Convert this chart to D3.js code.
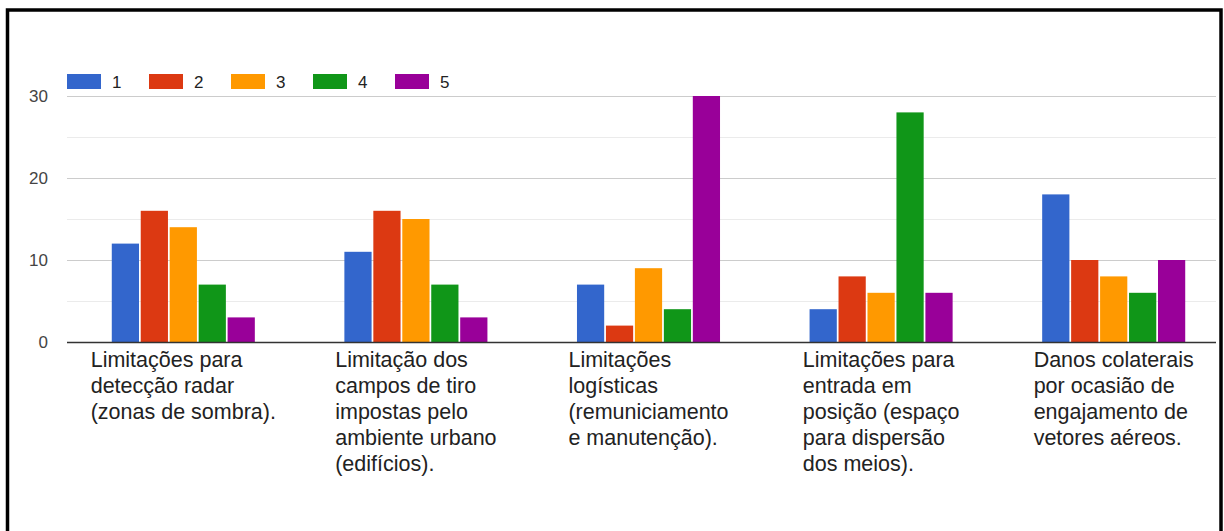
<!DOCTYPE html>
<html>
<head>
<meta charset="utf-8">
<script src="https://cdn.jsdelivr.net/npm/d3@7"></script>
<style>
  html, body { margin: 0; padding: 0; background: #fff; }
  svg { display: block; }
  text { font-family: Arial, "Liberation Sans", sans-serif; }
</style>
</head>
<body>
<svg id="chart" width="1224" height="531"></svg>
<script>
// Categories (wrapped into the lines shown under each group)
const categories = [
  "Limitações para detecção radar (zonas de sombra).",
  "Limitação dos campos de tiro impostas pelo ambiente urbano (edifícios).",
  "Limitações logísticas (remuniciamento e manutenção).",
  "Limitações para entrada em posição (espaço para dispersão dos meios).",
  "Danos colaterais por ocasião de engajamento de vetores aéreos."
];
const categoryLines = [
  ["Limitações para", "detecção radar", "(zonas de sombra)."],
  ["Limitação dos", "campos de tiro", "impostas pelo", "ambiente urbano", "(edifícios)."],
  ["Limitações", "logísticas", "(remuniciamento", "e manutenção)."],
  ["Limitações para", "entrada em", "posição (espaço", "para dispersão", "dos meios)."],
  ["Danos colaterais", "por ocasião de", "engajamento de", "vetores aéreos."]
];

// Series (rating 1..5), one value per category
const seriesNames = ["1", "2", "3", "4", "5"];
const values1 = [12, 11, 7, 4, 18];
const values2 = [16, 16, 2, 8, 10];
const values3 = [14, 15, 9, 6, 8];
const values4 = [7, 7, 4, 28, 6];
const values5 = [3, 3, 30, 6, 10];
const seriesColors = ["#3366cc", "#dc3912", "#ff9900", "#109618", "#990099"];

// Axis ticks
const majorTicks = [0, 10, 20, 30];
const minorTicks = [5, 15, 25];

const seriesValues = [values1, values2, values3, values4, values5];

const svg = d3.select("#chart");

const plotLeft = 67, plotRight = 1216;
const plotTop = 96, plotBottom = 342;

const y = d3.scaleLinear().domain([0, 30]).range([plotBottom, plotTop]);
const x = d3.scaleBand().domain(categories).range([plotLeft, 1230]).padding(0);
const groupWidth = x.bandwidth() * 0.615;
const xs = d3.scaleBand().domain(seriesNames).range([0, groupWidth]).paddingInner(0.06);

// Gridlines
svg.append("g").selectAll("line").data(minorTicks).join("line")
  .attr("x1", plotLeft).attr("x2", plotRight)
  .attr("y1", d => y(d) + 0.5).attr("y2", d => y(d) + 0.5)
  .attr("stroke", "#ebebeb").attr("stroke-width", 1);
svg.append("g").selectAll("line").data(majorTicks.filter(d => d !== 0)).join("line")
  .attr("x1", plotLeft).attr("x2", plotRight)
  .attr("y1", d => y(d) + 0.5).attr("y2", d => y(d) + 0.5)
  .attr("stroke", "#cccccc").attr("stroke-width", 1);

// Y axis labels
svg.append("g").selectAll("text").data(majorTicks).join("text")
  .attr("x", 48).attr("y", d => y(d))
  .attr("dy", "0.36em")
  .attr("text-anchor", "end")
  .attr("font-size", 17)
  .attr("fill", "#444")
  .text(d => d);

// Bars
const groups = svg.append("g").selectAll("g").data(categories).join("g")
  .attr("transform", c => `translate(${x(c) + (x.bandwidth() - groupWidth) / 2},0)`);
groups.selectAll("rect")
  .data((c, ci) => seriesNames.map((s, si) => ({ s, v: seriesValues[si][ci], si })))
  .join("rect")
  .attr("x", d => xs(d.s))
  .attr("width", xs.bandwidth())
  .attr("y", d => y(d.v))
  .attr("height", d => y(0) - y(d.v))
  .attr("fill", d => seriesColors[d.si]);

// Baseline
svg.append("line")
  .attr("x1", plotLeft).attr("x2", plotRight)
  .attr("y1", y(0) + 0.5).attr("y2", y(0) + 0.5)
  .attr("stroke", "#333").attr("stroke-width", 1.5);

// Category labels, left-aligned block centred under each group
const labelFont = 21.5;
const lineGap = 26;
const labelTop = 367;
categories.forEach((c, ci) => {
  const g = svg.append("g");
  const t = g.append("text").attr("font-size", labelFont).attr("fill", "#222");
  categoryLines[ci].forEach((ln, li) => {
    t.append("tspan").attr("x", 0).attr("y", labelTop + li * lineGap).text(ln);
  });
  let maxW = 0;
  t.selectAll("tspan").each(function () { maxW = Math.max(maxW, this.getComputedTextLength()); });
  let left = x(c) + x.bandwidth() / 2 - maxW / 2;
  left = Math.min(left, 1210 - maxW);
  g.attr("transform", `translate(${left},0)`);
});

// Legend
const legend = svg.append("g").selectAll("g").data(seriesNames).join("g")
  .attr("transform", (d, i) => `translate(${plotLeft + i * 82},74)`);
legend.append("rect").attr("width", 34).attr("height", 15)
  .attr("fill", (d, i) => seriesColors[i]);
legend.append("text").attr("x", 45).attr("y", 14)
  .attr("font-size", 17).attr("fill", "#222").text(d => d);

// Frame
svg.append("rect")
  .attr("x", 7.5).attr("y", 10)
  .attr("width", 1213.5).attr("height", 600)
  .attr("fill", "none").attr("stroke", "#000").attr("stroke-width", 3.5);
</script>
</body>
</html>
